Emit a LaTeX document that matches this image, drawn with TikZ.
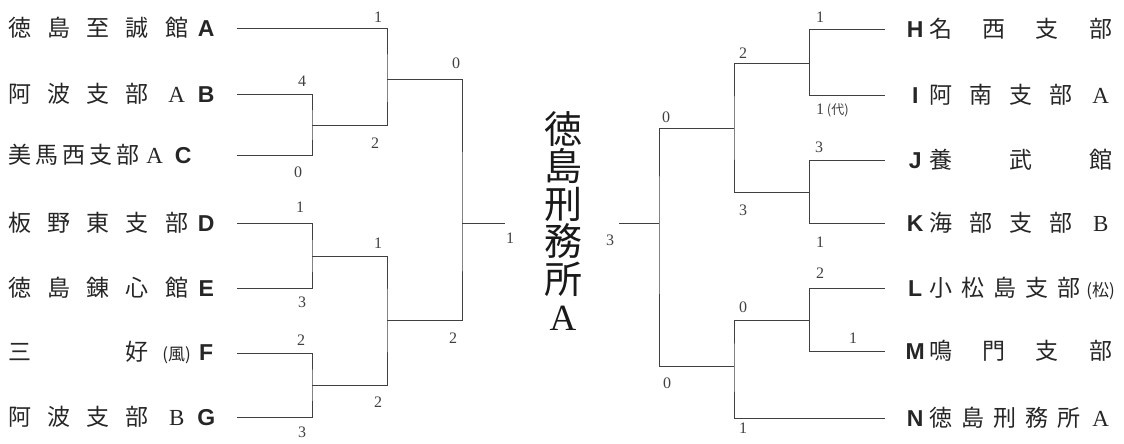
\documentclass[tikz,border=0pt]{standalone}
\usepackage{fontspec}
\setmainfont{Liberation Serif}
\newfontfamily\jp{Noto Sans CJK JP}
\newfontfamily\bsans{Liberation Sans}
\newcommand\js[1]{\makebox[23pt]{#1}}
\newcommand\jph{\makebox[23pt]{}}
\newcommand\bltr[1]{\makebox[20pt]{\bsans\bfseries #1}}
\newcommand\rltr[1]{\makebox[16pt]{\bsans\bfseries #1}}
\newcommand\fw[1]{\js{\rmfamily #1}}
\newcommand\paren[1]{\makebox[23pt]{\fontsize{17}{17}\selectfont(#1)}}
\tikzset{
  line/.style={draw=black!75, line width=0.9pt},
  score/.style={font=\fontsize{16}{16}\selectfont, text=black!75, inner sep=0pt},
  namebox/.style={anchor=west, inner sep=0pt, font=\jp\fontsize{23}{23}\selectfont, text=black!85},
  titlebox/.style={inner sep=0pt, align=center, text=black!90, font=\jp\fontsize{38}{37.5}\selectfont}
}
\begin{document}
\begin{tikzpicture}[x=1pt, y=-1pt]
\useasboundingbox (0,0) rectangle (1124,444);
% left names
\node[namebox] (nA) at (8,28) {\makebox[180pt]{\js{徳}\hfill\js{島}\hfill\js{至}\hfill\js{誠}\hfill\js{館}}\hspace{8pt}\bltr{A}};
\node[namebox] (nB) at (8,94) {\makebox[180pt]{\js{阿}\hfill\js{波}\hfill\js{支}\hfill\js{部}\hfill\fw{A}}\hspace{8pt}\bltr{B}};
\node[namebox] (nC) at (8,155) {\makebox[158pt]{\js{美}\hfill\js{馬}\hfill\js{西}\hfill\js{支}\hfill\js{部}\hfill\fw{A}}\hspace{7pt}\bltr{C}};
\node[namebox] (nD) at (8,223) {\makebox[180pt]{\js{板}\hfill\js{野}\hfill\js{東}\hfill\js{支}\hfill\js{部}}\hspace{8pt}\bltr{D}};
\node[namebox] (nE) at (8,288) {\makebox[180pt]{\js{徳}\hfill\js{島}\hfill\js{錬}\hfill\js{心}\hfill\js{館}}\hspace{8pt}\bltr{E}};
\node[namebox] (nF) at (8,353) {\makebox[180pt]{\js{三}\hfill\jph\hfill\jph\hfill\js{好}\hfill\paren{風}}\hspace{8pt}\bltr{F}};
\node[namebox] (nG) at (8,417) {\makebox[180pt]{\js{阿}\hfill\js{波}\hfill\js{支}\hfill\js{部}\hfill\fw{B}}\hspace{8pt}\bltr{G}};
% right names
\node[namebox] (nH) at (907,29) {\rltr{H}\hspace{6pt}\makebox[183pt]{\js{名}\hfill\js{西}\hfill\js{支}\hfill\js{部}}};
\node[namebox] (nI) at (907,95) {\rltr{I}\hspace{6pt}\makebox[183pt]{\js{阿}\hfill\js{南}\hfill\js{支}\hfill\js{部}\hfill\fw{A}}};
\node[namebox] (nJ) at (907,160) {\rltr{J}\hspace{6pt}\makebox[183pt]{\js{養}\hfill\jph\hfill\js{武}\hfill\jph\hfill\js{館}}};
\node[namebox] (nK) at (907,223) {\rltr{K}\hspace{6pt}\makebox[183pt]{\js{海}\hfill\js{部}\hfill\js{支}\hfill\js{部}\hfill\fw{B}}};
\node[namebox] (nL) at (907,288) {\rltr{L}\hspace{6pt}\makebox[183pt]{\js{小}\hfill\js{松}\hfill\js{島}\hfill\js{支}\hfill\js{部}\hfill\paren{松}}};
\node[namebox] (nM) at (907,351) {\rltr{M}\hspace{6pt}\makebox[183pt]{\js{鳴}\hfill\js{門}\hfill\js{支}\hfill\js{部}}};
\node[namebox] (nN) at (907,418) {\rltr{N}\hspace{6pt}\makebox[183pt]{\js{徳}\hfill\js{島}\hfill\js{刑}\hfill\js{務}\hfill\js{所}\hfill\fw{A}}};
% title
\node[titlebox] (title) at (563,221) {徳\\島\\刑\\務\\所\\{\rmfamily\fontsize{37}{37.5}\selectfont A}};
% left bracket coordinates
\coordinate (la) at (237,28);
\coordinate (lb) at (237,94);
\coordinate (lc) at (237,155);
\coordinate (ld) at (237,223);
\coordinate (le) at (237,288);
\coordinate (lf) at (237,353);
\coordinate (lg) at (237,417);
\coordinate (jbc) at (312,125);
\coordinate (jde) at (312,256);
\coordinate (jfg) at (312,385);
\coordinate (jabc) at (387,79);
\coordinate (jdg) at (387,320);
\coordinate (jl) at (462,223);
\coordinate (lend) at (505,223);
\draw[line] (lb) -| (jbc) |- (lc);
\draw[line] (ld) -| (jde) |- (le);
\draw[line] (lf) -| (jfg) |- (lg);
\draw[line] (la) -| (jabc) |- (jbc);
\draw[line] (jde) -| (jdg) |- (jfg);
\draw[line] (jabc) -| (jl) |- (jdg);
\draw[line] (jl) -- (lend);
% right bracket coordinates
\coordinate (rh) at (885,29);
\coordinate (ri) at (885,95);
\coordinate (rj) at (885,160);
\coordinate (rk) at (885,223);
\coordinate (rl) at (885,288);
\coordinate (rm) at (885,351);
\coordinate (rn) at (885,418);
\coordinate (jhi) at (809,63);
\coordinate (jjk) at (809,192);
\coordinate (jlm) at (809,320);
\coordinate (jhk) at (734,128);
\coordinate (jln) at (734,366);
\coordinate (jr) at (659,223);
\coordinate (rend) at (619,223);
\draw[line] (rh) -| (jhi) |- (ri);
\draw[line] (rj) -| (jjk) |- (rk);
\draw[line] (rl) -| (jlm) |- (rm);
\draw[line] (jhi) -| (jhk) |- (jjk);
\draw[line] (jlm) -| (jln) |- (rn);
\draw[line] (jhk) -| (jr) |- (jln);
\draw[line] (jr) -- (rend);
% left scores
\node[score] (s1) at (378,17) {1};
\node[score] (s2) at (302,81) {4};
\node[score] (s3) at (375,143) {2};
\node[score] (s4) at (298,172) {0};
\node[score] (s5) at (300,207) {1};
\node[score] (s6) at (302,302) {3};
\node[score] (s7) at (378,243) {1};
\node[score] (s8) at (301,340) {2};
\node[score] (s9) at (302,432) {3};
\node[score] (s10) at (378,402) {2};
\node[score] (s11) at (456,63) {0};
\node[score] (s12) at (453,338) {2};
\node[score] (s13) at (510,238) {1};
\node[score] (s14) at (610,240) {3};
% right scores
\node[score] (s15) at (820,17) {1};
\node[score] (s16) at (743,53) {2};
\node[score, anchor=west] (s17) at (816,110) {1\,{\jp\fontsize{13}{13}\selectfont(代)}};
\node[score] (s18) at (666,117) {0};
\node[score] (s19) at (819,147) {3};
\node[score] (s20) at (743,210) {3};
\node[score] (s21) at (820,242) {1};
\node[score] (s22) at (820,273) {2};
\node[score] (s23) at (743,307) {0};
\node[score] (s24) at (853,338) {1};
\node[score] (s25) at (667,383) {0};
\node[score] (s26) at (743,428) {1};
\end{tikzpicture}
\end{document}
